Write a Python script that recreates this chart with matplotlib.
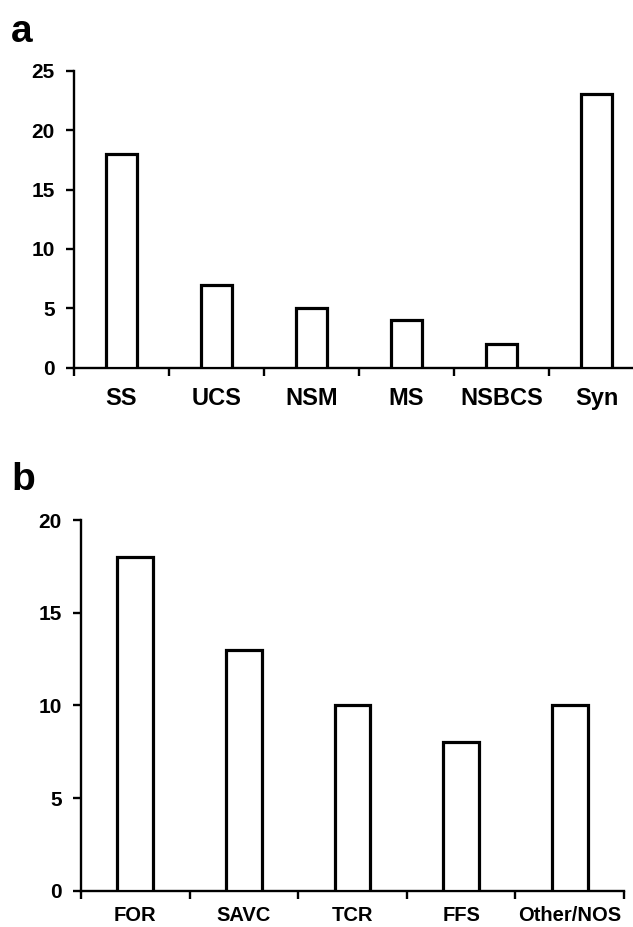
import numpy as np
import matplotlib
matplotlib.use("Agg")
import matplotlib.pyplot as plt

plt.rcParams["font.family"] = ["Liberation Sans", "DejaVu Sans"]
plt.rcParams["font.weight"] = "bold"

# panel a
labels_a = ["SS", "UCS", "NSM", "MS", "NSBCS", "Syn"]
counts_a = [18, 7, 5, 4, 2, 23]

# panel b
labels_b = ["FOR", "SAVC", "TCR", "FFS", "Other/NOS"]
counts_b = [18, 13, 10, 8, 10]

fig = plt.figure(figsize=(6.33, 9.27), dpi=100)

ax_a = fig.add_axes([74 / 633, 1 - 367.7 / 927, 570 / 633, 297 / 927])
ax_b = fig.add_axes([81 / 633, 1 - 890.7 / 927, 543 / 633, 370.7 / 927])


def draw_panel(ax, labels, counts, ymax, xfont, bar_w, xpad):
    n = len(labels)
    x = np.arange(n) + 0.5
    ax.bar(x, counts, width=bar_w, color="white", edgecolor="black",
           linewidth=2.3, zorder=3)
    ax.set_xlim(0, n)
    ax.set_ylim(0, ymax)
    ax.set_yticks(np.arange(0, ymax + 1, 5))
    ax.set_xticks(x)
    ax.set_xticklabels(labels, fontsize=xfont, fontweight="bold")
    ax.set_xticks(np.arange(0, n + 1), minor=True)
    ax.tick_params(axis="x", which="major", length=0, pad=xpad)
    ax.tick_params(axis="x", which="minor", length=6, width=1.7, direction="out")
    ax.tick_params(axis="y", length=6, width=1.7, direction="out", pad=8,
                   labelsize=15)
    for t in ax.get_yticklabels():
        t.set_fontweight("bold")
    ax.spines["top"].set_visible(False)
    ax.spines["right"].set_visible(False)
    ax.spines["left"].set_linewidth(1.7)
    ax.spines["bottom"].set_linewidth(1.7)


draw_panel(ax_a, labels_a, counts_a, 25, 17, 0.32, 14)
draw_panel(ax_b, labels_b, counts_b, 20, 14.5, 0.33, 11)

fig.text(11 / 633, 1 - 42 / 927, "a", fontsize=28, fontweight="bold")
fig.text(11 / 633, 1 - 490 / 927, "b", fontsize=28, fontweight="bold")

fig.savefig("out.png", dpi=100)
